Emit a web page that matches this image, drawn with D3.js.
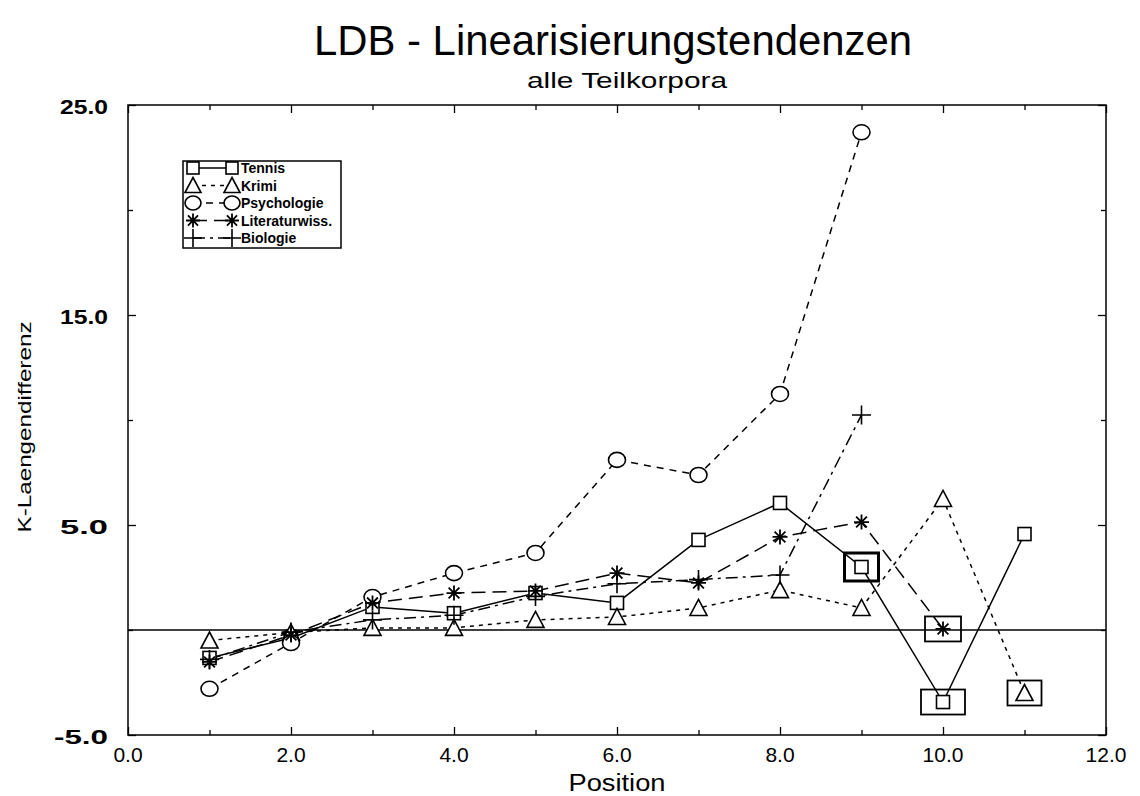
<!DOCTYPE html>
<html><head><meta charset="utf-8">
<script src="https://cdn.jsdelivr.net/npm/d3@7"></script>
<style>body{margin:0;background:#fff}svg{display:block}text{font-family:"Liberation Sans",Arial,sans-serif;fill:#000}</style>
</head><body>
<svg id="c" width="1140" height="796"></svg>
<script>
const positions = [1,2,3,4,5,6,7,8,9,10,11];
const tennis = [-1.33,-0.38,1.1,0.8,1.76,1.29,4.29,6.05,3.0,-3.43,4.57];
const krimi = [-0.5,-0.12,0.1,0.1,0.48,0.62,1.05,1.9,1.05,6.24,-3.0];
const psychologie = [-2.8,-0.62,1.57,2.71,3.67,8.1,7.38,11.24,23.7];
const literaturwiss = [-1.52,-0.24,1.29,1.76,1.86,2.71,2.24,4.43,5.14,0.05];
const biologie = [-1.4,-0.1,0.48,0.7,1.6,2.2,2.4,2.62,10.24];
const seriesNames = ["Tennis","Krimi","Psychologie","Literaturwiss.","Biologie"];
const xTicks = [0,2,4,6,8,10,12];
const yTicks = [-5,5,15,25];
// highlighted points (series index, position)
const highlighted = [[0,9],[0,10],[3,10],[1,11]];

const series = [
  {name:seriesNames[0], vals:tennis, dash:null, sym:"square"},
  {name:seriesNames[1], vals:krimi, dash:"4,5", sym:"triangle"},
  {name:seriesNames[2], vals:psychologie, dash:"7,6", sym:"circle"},
  {name:seriesNames[3], vals:literaturwiss, dash:"14,7", sym:"asterisk"},
  {name:seriesNames[4], vals:biologie, dash:"12,5,3,5", sym:"plus"}
];

const svg = d3.select("#c");
const L=128, R=1106, T=105, B=735;
const x = d3.scaleLinear().domain([0,12]).range([L,R]);
const y = d3.scaleLinear().domain([-5,25]).range([B,T]);

// title
svg.append("text").attr("x",613).attr("y",55).attr("text-anchor","middle").attr("font-size",42).attr("textLength",598).attr("lengthAdjust","spacingAndGlyphs").text("LDB - Linearisierungstendenzen");
svg.append("text").attr("x",627).attr("y",88).attr("text-anchor","middle").attr("font-size",22).attr("textLength",200).attr("lengthAdjust","spacingAndGlyphs").text("alle Teilkorpora");

// frame
svg.append("rect").attr("x",L).attr("y",T).attr("width",R-L).attr("height",B-T).attr("fill","none").attr("stroke","#000").attr("stroke-width",1.5);

// axes ticks (inward)
const gx = svg.append("g").attr("transform",`translate(0,${B})`).call(d3.axisBottom(x).tickValues(d3.range(0,13,1)).tickSize(-8).tickFormat(""));
const gxt = svg.append("g").attr("transform",`translate(0,${T})`).call(d3.axisTop(x).tickValues(d3.range(0,13,1)).tickSize(-8).tickFormat(""));
const gy = svg.append("g").attr("transform",`translate(${L},0)`).call(d3.axisLeft(y).tickValues(d3.range(-5,26,5)).tickSize(-8).tickFormat(""));
const gyr = svg.append("g").attr("transform",`translate(${R},0)`).call(d3.axisRight(y).tickValues(d3.range(-5,26,5)).tickSize(-8).tickFormat(""));
[gx,gxt,gy,gyr].forEach(g=>{g.select(".domain").remove();g.selectAll("line").attr("stroke","#000").attr("stroke-width",1.3);});
gx.selectAll(".tick").filter(d=>d%2===1).select("line").attr("y2",-5);
gxt.selectAll(".tick").filter(d=>d%2===1).select("line").attr("y2",5);
gy.selectAll(".tick").filter(d=>((d+5)/5)%2===1).select("line").attr("x2",5);
gyr.selectAll(".tick").filter(d=>((d+5)/5)%2===1).select("line").attr("x2",-5);

// tick labels
svg.append("g").selectAll("text").data(xTicks).join("text")
  .attr("x",d=>x(d)).attr("y",B+27).attr("text-anchor","middle").attr("font-size",21).text(d=>d.toFixed(1));
svg.append("g").selectAll("text").data(yTicks).join("text")
  .attr("x",L-20).attr("y",d=>y(d)+9).attr("text-anchor","end").attr("font-size",21).attr("font-weight","bold")
  .attr("textLength",d=>d<0?54:48).attr("lengthAdjust","spacingAndGlyphs").text(d=>d.toFixed(1));

// axis titles
svg.append("text").attr("x",617).attr("y",791).attr("text-anchor","middle").attr("font-size",23).attr("textLength",97).attr("lengthAdjust","spacingAndGlyphs").text("Position");
svg.append("text").attr("transform","translate(31,427) rotate(-90)").attr("text-anchor","middle").attr("font-size",18).attr("textLength",211).attr("lengthAdjust","spacingAndGlyphs").text("K-Laengendifferenz");

// zero line
svg.append("line").attr("x1",L).attr("x2",R).attr("y1",y(0)).attr("y2",y(0)).attr("stroke","#000").attr("stroke-width",1.5);

function drawSym(g, sym, cx, cy, s){
  const h=s/2;
  if(sym==="square") g.append("rect").attr("x",cx-h+1).attr("y",cy-h+1).attr("width",s-2).attr("height",s-2).attr("fill","#fff").attr("stroke","#000").attr("stroke-width",1.6);
  else if(sym==="triangle") g.append("path").attr("d",`M${cx},${cy-h-1}L${cx+h+1},${cy+h}L${cx-h-1},${cy+h}Z`).attr("fill","#fff").attr("stroke","#000").attr("stroke-width",1.6);
  else if(sym==="circle") g.append("ellipse").attr("cx",cx).attr("cy",cy).attr("rx",h+1).attr("ry",h).attr("fill","#fff").attr("stroke","#000").attr("stroke-width",1.6);
  else if(sym==="asterisk"){
    const p = `M${cx-h},${cy}L${cx+h},${cy}M${cx},${cy-h}L${cx},${cy+h}M${cx-h*0.72},${cy-h*0.72}L${cx+h*0.72},${cy+h*0.72}M${cx-h*0.72},${cy+h*0.72}L${cx+h*0.72},${cy-h*0.72}`;
    g.append("path").attr("d",p).attr("stroke","#000").attr("stroke-width",1.8).attr("fill","none");
  } else if(sym==="plus"){
    g.append("path").attr("d",`M${cx-h-2},${cy}L${cx+h+2},${cy}M${cx},${cy-h-2}L${cx},${cy+h+2}`).attr("stroke","#000").attr("stroke-width",1.6).attr("fill","none");
  }
}

const line = d3.line().x((d,i)=>x(positions[i])).y(d=>y(d));
const plot = svg.append("g");
series.forEach(s=>{
  plot.append("path").attr("d",line(s.vals)).attr("fill","none").attr("stroke","#000").attr("stroke-width",1.5)
    .attr("stroke-dasharray",s.dash);
});
// highlight boxes
highlighted.forEach(([si,p])=>{
  const v = series[si].vals[p-1];
  const w = si===3?36:(si===0&&p===10?44:34), hh = si===0&&p===9?28:25;
  plot.append("rect").attr("x",x(p)-w/2).attr("y",y(v)-hh/2).attr("width",w).attr("height",hh)
    .attr("fill","none").attr("stroke","#000").attr("stroke-width",si===0&&p===9?3:1.8);
});
series.forEach(s=>{
  s.vals.forEach((v,i)=>drawSym(plot,s.sym,x(positions[i]),y(v),15));
});

// legend
const lg = svg.append("g");
lg.append("rect").attr("x",183).attr("y",161).attr("width",158).attr("height",87).attr("fill","#fff").attr("stroke","#000").attr("stroke-width",1.5);
series.forEach((s,i)=>{
  const yy = 168 + i*17.5;
  lg.append("line").attr("x1",193).attr("x2",232).attr("y1",yy).attr("y2",yy).attr("stroke","#000").attr("stroke-width",1.5).attr("stroke-dasharray",s.dash);
  drawSym(lg,s.sym,193,yy,14);
  drawSym(lg,s.sym,232,yy,14);
  lg.append("text").attr("x",241).attr("y",yy+5).attr("font-size",14).attr("font-weight","bold").text(s.name);
});
</script>
</body></html>
